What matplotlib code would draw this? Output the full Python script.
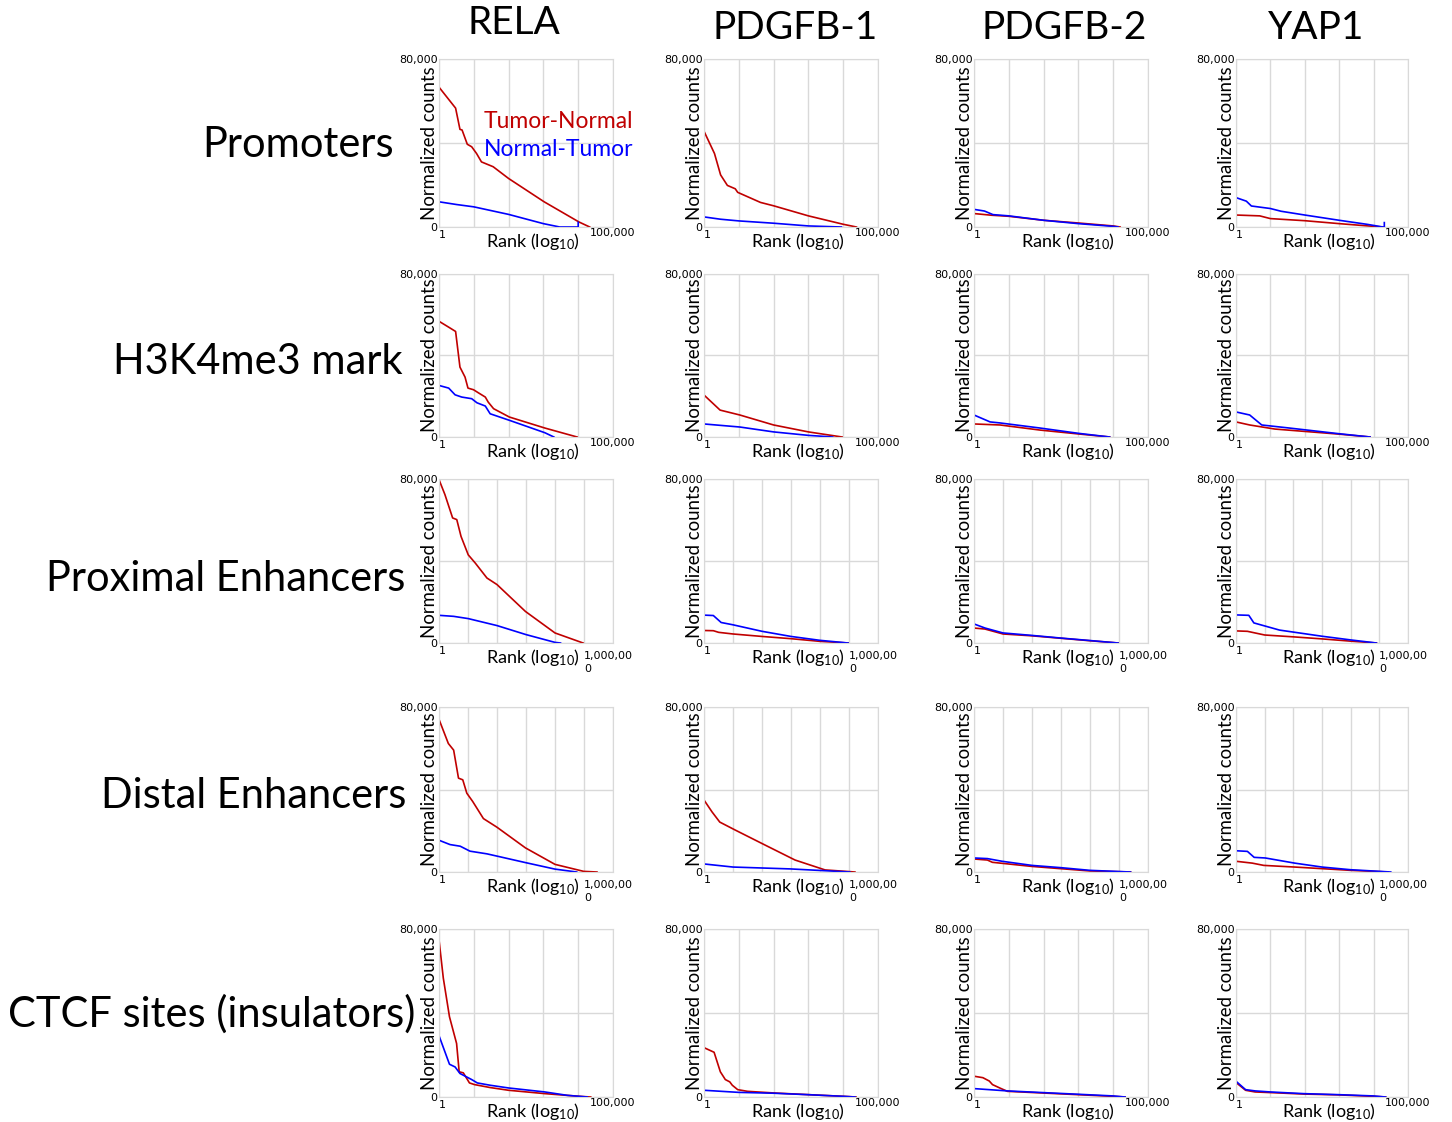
import matplotlib
matplotlib.use('Agg')
import matplotlib.pyplot as plt

plt.rcParams['font.family'] = ['Lato', 'DejaVu Sans']
plt.rcParams['mathtext.default'] = 'regular'

RED = '#C00000'
BLUE = '#0000FF'
GRID = '#D9D9D9'

# Column / row names
factors = ['RELA', 'PDGFB-1', 'PDGFB-2', 'YAP1']
regions = ['Promoters', 'H3K4me3 mark', 'Proximal Enhancers', 'Distal Enhancers', 'CTCF sites (insulators)']
row_xmax = [1e5, 1e5, 1e6, 1e6, 1e5]
row_xmax_label = ['100,000', '100,000', '1,000,00\n0', '1,000,00\n0', '100,000']

# ---------------- Promoters ----------------
prom_rela_tn_rank = [1, 3, 4, 4.6, 6.5, 8.7, 12, 16.6, 36, 100, 1050, 10500, 21400]
prom_rela_tn = [66600, 56600, 46500, 46200, 39400, 38200, 35000, 31000, 28700, 23100, 12000, 2400, 0]
prom_rela_nt_rank = [1, 3.2, 10, 100, 1000, 2950, 10000, 10000]
prom_rela_nt = [12000, 10700, 9600, 6000, 1600, 0, 0, 2200]

prom_pd1_tn_rank = [1, 2, 3, 4.7, 7.9, 9.3, 42, 100, 1000, 10000, 24000]
prom_pd1_tn = [45600, 35000, 24800, 19800, 18200, 16500, 11700, 10100, 5300, 1300, 0]
prom_pd1_nt_rank = [1, 3, 10, 100, 1000, 8900]
prom_pd1_nt = [4800, 3700, 2900, 1800, 500, 0]

prom_pd2_tn_rank = [1, 3.2, 10, 100, 1000, 10000, 15800]
prom_pd2_tn = [6400, 5600, 5100, 3200, 1900, 500, 0]
prom_pd2_nt_rank = [1, 2, 3.5, 10, 100, 1000, 10000, 13800]
prom_pd2_nt = [8400, 7600, 5900, 5300, 3200, 1600, 300, 0]

prom_yap_tn_rank = [1, 4.9, 10, 100, 1000, 10000, 18600]
prom_yap_tn = [5700, 5300, 4000, 3000, 1600, 300, 0]
prom_yap_nt_rank = [1, 2, 2.8, 10, 20.4, 100, 1000, 6300, 18600, 20500, 20500]
prom_yap_nt = [14000, 12300, 10000, 8800, 7500, 5700, 3200, 1300, 0, 0, 2100]

# ---------------- H3K4me3 mark ----------------
h3_rela_tn_rank = [1, 1.9, 3, 4, 5.6, 6.8, 9.8, 13.5, 21.4, 26, 37, 105, 1100, 9300]
h3_rela_tn = [56800, 53900, 51800, 34300, 29400, 24000, 23200, 21700, 19600, 17100, 13900, 9800, 4400, 0]
h3_rela_nt_rank = [1, 1.9, 2.9, 4.5, 8.7, 12.3, 21.4, 29.5, 105, 1100, 2000]
h3_rela_nt = [25300, 24000, 20700, 19600, 18800, 16800, 15200, 11400, 8200, 2100, 0]

h3_pd1_tn_rank = [1, 2.9, 10.7, 100, 1000, 9300]
h3_pd1_tn = [20600, 13200, 10800, 5900, 2500, 0]
h3_pd1_nt_rank = [1, 10.7, 100, 1000, 5000]
h3_pd1_nt = [6400, 4900, 2500, 800, 0]

h3_pd2_tn_rank = [1, 5.6, 79, 1000, 7900]
h3_pd2_tn = [6400, 5900, 3400, 1500, 0]
h3_pd2_nt_rank = [1, 2.9, 5.6, 79, 1000, 7900]
h3_pd2_nt = [10800, 7400, 6900, 4400, 1800, 0]

h3_yap_tn_rank = [1, 2.5, 13.5, 1000, 7900]
h3_yap_tn = [7400, 5900, 3900, 1400, 0]
h3_yap_nt_rank = [1, 2.5, 5.6, 35.5, 1000, 7900]
h3_yap_nt = [12300, 10800, 5900, 4400, 1600, 0]

# ---------------- Proximal Enhancers ----------------
prox_rela_tn_rank = [1, 1.6, 2.95, 4.1, 5.75, 10.2, 17.8, 45, 100, 955, 10000, 93000]
prox_rela_tn = [79700, 72400, 61000, 60200, 52000, 43000, 39000, 31700, 28500, 15400, 4900, 0]
prox_rela_nt_rank = [1, 3.2, 10.2, 100, 1000, 10000, 15500]
prox_rela_nt = [13500, 13000, 11900, 8500, 4100, 300, 0]

prox_pd1_tn_rank = [1, 2.1, 3.2, 10, 100, 1000, 10000, 93000]
prox_pd1_tn = [6100, 6000, 5200, 4400, 3200, 2100, 800, 0]
prox_pd1_nt_rank = [1, 2.1, 3.9, 9.8, 100, 1000, 10000, 93000]
prox_pd1_nt = [13600, 13400, 10000, 8900, 5700, 3200, 1300, 0]

prox_pd2_tn_rank = [1, 2.4, 10, 100, 1000, 10000, 93000]
prox_pd2_tn = [7300, 6800, 4400, 3500, 2300, 1100, 0]
prox_pd2_nt_rank = [1, 2.4, 10, 100, 1000, 10000, 93000]
prox_pd2_nt = [9300, 7300, 4900, 3700, 2400, 1200, 0]

prox_yap_tn_rank = [1, 2.5, 10, 100, 1000, 10000, 79000]
prox_yap_tn = [5900, 5700, 3900, 3000, 2000, 900, 0]
prox_yap_nt_rank = [1, 2.8, 4.2, 33, 1000, 10000, 79000]
prox_yap_nt = [13700, 13500, 9800, 6300, 3300, 1500, 0]

# ---------------- Distal Enhancers ----------------
dist_rela_tn_rank = [1, 2.1, 3.2, 4.7, 6.6, 9.1, 14.5, 34, 100, 955, 10000, 98000, 280000]
dist_rela_tn = [74000, 62300, 59100, 45500, 44700, 38200, 34200, 25900, 21700, 11700, 3700, 300, 0]
dist_rela_nt_rank = [1, 2.4, 5.4, 11.7, 45, 100, 1000, 10000, 56000]
dist_rela_nt = [15400, 13300, 12500, 10100, 8800, 7700, 4500, 1400, 0]

dist_pd1_tn_rank = [1, 1.9, 3.5, 11.7, 126, 1380, 15000, 160000]
dist_pd1_tn = [34900, 29100, 24200, 20400, 13100, 5800, 1000, 0]
dist_pd1_nt_rank = [1, 10, 930, 107000]
dist_pd1_nt = [3900, 2400, 1500, 0]

dist_pd2_tn_rank = [1, 2.9, 4.3, 100, 10000, 250000]
dist_pd2_tn = [6300, 5800, 4700, 2700, 500, 0]
dist_pd2_nt_rank = [1, 2.9, 9.3, 100, 1000, 10000, 250000]
dist_pd2_nt = [6800, 6500, 5200, 3200, 2100, 800, 0]

dist_yap_tn_rank = [1, 3.7, 9.3, 112, 10000, 200000]
dist_yap_tn = [5200, 4300, 3200, 2400, 800, 0]
dist_yap_nt_rank = [1, 2.5, 4.3, 10.5, 112, 1000, 10000, 250000]
dist_yap_nt = [10300, 10000, 7100, 6800, 4300, 2400, 1100, 0]

# ---------------- CTCF sites ----------------
ctcf_rela_tn_rank = [1, 1.33, 2, 3.2, 3.8, 5, 7.5, 10.5, 29.5, 100, 1100, 11200, 22900]
ctcf_rela_tn = [74900, 56600, 38200, 25500, 12000, 11500, 6700, 5900, 4500, 3200, 1600, 300, 0]
ctcf_rela_nt_rank = [1, 2, 2.9, 4, 8.7, 12.6, 29.5, 100, 1100, 4800, 18200]
ctcf_rela_nt = [29200, 15600, 14300, 11200, 8300, 6700, 5600, 4300, 2400, 800, 0]

ctcf_pd1_tn_rank = [1, 1.95, 2.95, 4.1, 5.5, 6.5, 9.3, 17.8, 107, 1070, 10500, 23400]
ctcf_pd1_tn = [23500, 21300, 12000, 8300, 7200, 5600, 3500, 2700, 1900, 1100, 300, 0]
ctcf_pd1_nt_rank = [1, 10, 100, 1000, 10500, 22000]
ctcf_pd1_nt = [3200, 2200, 1800, 1100, 300, 0]

ctcf_pd2_tn_rank = [1, 1.8, 2.75, 3.4, 5.5, 9.1, 95, 1000, 10000, 22000]
ctcf_pd2_tn = [9900, 9200, 7600, 5900, 4300, 2700, 1900, 1100, 300, 0]
ctcf_pd2_nt_rank = [1, 9.1, 95, 1000, 10000, 22000]
ctcf_pd2_nt = [4000, 2900, 2100, 1300, 500, 0]

ctcf_yap_tn_rank = [1, 1.9, 3.6, 10, 93, 1000, 10000, 22400]
ctcf_yap_tn = [6900, 3200, 2400, 2100, 1400, 1000, 300, 0]
ctcf_yap_nt_rank = [1, 1.9, 3.6, 10, 93, 1000, 10000, 22400]
ctcf_yap_nt = [7500, 3500, 2900, 2400, 1600, 1100, 500, 0]

panels = [
    [(prom_rela_tn_rank, prom_rela_tn, prom_rela_nt_rank, prom_rela_nt),
     (prom_pd1_tn_rank, prom_pd1_tn, prom_pd1_nt_rank, prom_pd1_nt),
     (prom_pd2_tn_rank, prom_pd2_tn, prom_pd2_nt_rank, prom_pd2_nt),
     (prom_yap_tn_rank, prom_yap_tn, prom_yap_nt_rank, prom_yap_nt)],
    [(h3_rela_tn_rank, h3_rela_tn, h3_rela_nt_rank, h3_rela_nt),
     (h3_pd1_tn_rank, h3_pd1_tn, h3_pd1_nt_rank, h3_pd1_nt),
     (h3_pd2_tn_rank, h3_pd2_tn, h3_pd2_nt_rank, h3_pd2_nt),
     (h3_yap_tn_rank, h3_yap_tn, h3_yap_nt_rank, h3_yap_nt)],
    [(prox_rela_tn_rank, prox_rela_tn, prox_rela_nt_rank, prox_rela_nt),
     (prox_pd1_tn_rank, prox_pd1_tn, prox_pd1_nt_rank, prox_pd1_nt),
     (prox_pd2_tn_rank, prox_pd2_tn, prox_pd2_nt_rank, prox_pd2_nt),
     (prox_yap_tn_rank, prox_yap_tn, prox_yap_nt_rank, prox_yap_nt)],
    [(dist_rela_tn_rank, dist_rela_tn, dist_rela_nt_rank, dist_rela_nt),
     (dist_pd1_tn_rank, dist_pd1_tn, dist_pd1_nt_rank, dist_pd1_nt),
     (dist_pd2_tn_rank, dist_pd2_tn, dist_pd2_nt_rank, dist_pd2_nt),
     (dist_yap_tn_rank, dist_yap_tn, dist_yap_nt_rank, dist_yap_nt)],
    [(ctcf_rela_tn_rank, ctcf_rela_tn, ctcf_rela_nt_rank, ctcf_rela_nt),
     (ctcf_pd1_tn_rank, ctcf_pd1_tn, ctcf_pd1_nt_rank, ctcf_pd1_nt),
     (ctcf_pd2_tn_rank, ctcf_pd2_tn, ctcf_pd2_nt_rank, ctcf_pd2_nt),
     (ctcf_yap_tn_rank, ctcf_yap_tn, ctcf_yap_nt_rank, ctcf_yap_nt)],
]

# layout in pixels of the 1452x1122 canvas
W, H = 1452, 1122
col_left = [439, 704, 974, 1236]
col_width = [174, 174, 174, 172]
row_top = [59, 274, 479, 707, 929]
row_bottom = [227, 437, 643, 872, 1097]
title_x = [514, 795, 1064, 1316]
title_y = [23, 28, 28, 28]
label_x = [298, 258, 226, 254, 212]
label_y = [145, 362, 579, 796, 1014]

fig = plt.figure(figsize=(W / 100, H / 100), dpi=100)

for r in range(5):
    for c in range(4):
        l = col_left[c] / W
        b = 1 - row_bottom[r] / H
        w = col_width[c] / W
        h = (row_bottom[r] - row_top[r]) / H
        ax = fig.add_axes([l, b, w, h])
        tn_x, tn_y, nt_x, nt_y = panels[r][c]
        ax.plot(tn_x, tn_y, color=RED, lw=1.2, solid_joinstyle='round')
        ax.plot(nt_x, nt_y, color=BLUE, lw=1.2, solid_joinstyle='round')
        ax.set_xscale('log')
        xmax = row_xmax[r]
        ax.set_xlim(1, xmax)
        ax.set_ylim(0, 80000)
        decades = [10 ** k for k in range(0, 7) if 10 ** k <= xmax]
        ax.set_xticks(decades)
        ax.set_xticks([], minor=True)
        ax.set_xticklabels([])
        ax.set_yticks([0, 40000, 80000])
        ax.set_yticklabels(['0', '', '80,000'], family='DejaVu Sans', fontsize=8)
        ax.tick_params(length=0, pad=1)
        ax.grid(True, color=GRID, lw=1)
        for s in ax.spines.values():
            s.set_color(GRID)
        ax.set_axisbelow(True)
        ax.set_ylabel('Normalized counts', fontsize=13.4)
        ax.yaxis.set_label_coords(-0.005, 0.5)
        ax.annotate('1', xy=(1, 0), xycoords=('data', 'axes fraction'),
                    xytext=(0, -2), textcoords='offset points',
                    ha='left', va='top', fontsize=8, family='DejaVu Sans')
        lab = row_xmax_label[r]
        if '\n' in lab:
            ax.annotate(lab, xy=(xmax, 0), xycoords=('data', 'axes fraction'),
                        xytext=(-21, -6), textcoords='offset points',
                        ha='left', va='top', fontsize=8, family='DejaVu Sans',
                        linespacing=1.3)
        else:
            ax.annotate(lab, xy=(xmax, 0), xycoords=('data', 'axes fraction'),
                        xytext=(0, -1), textcoords='offset points',
                        ha='center', va='top', fontsize=8, family='DejaVu Sans')
        ax.text(0.54, -0.022, 'Rank (log$_{10}$)', transform=ax.transAxes,
                ha='center', va='top', fontsize=13)

for c in range(4):
    fig.text(title_x[c] / W, 1 - title_y[c] / H, factors[c],
             ha='center', va='center', fontsize=28)

for r in range(5):
    fig.text(label_x[r] / W, 1 - label_y[r] / H, regions[r],
             ha='center', va='center', fontsize=30)

fig.text(484 / W, 1 - 121 / H, 'Tumor-Normal', color=RED, fontsize=16.5,
         ha='left', va='center')
fig.text(484 / W, 1 - 150 / H, 'Normal-Tumor', color=BLUE, fontsize=16.5,
         ha='left', va='center')

fig.savefig('out.png', dpi=100)
